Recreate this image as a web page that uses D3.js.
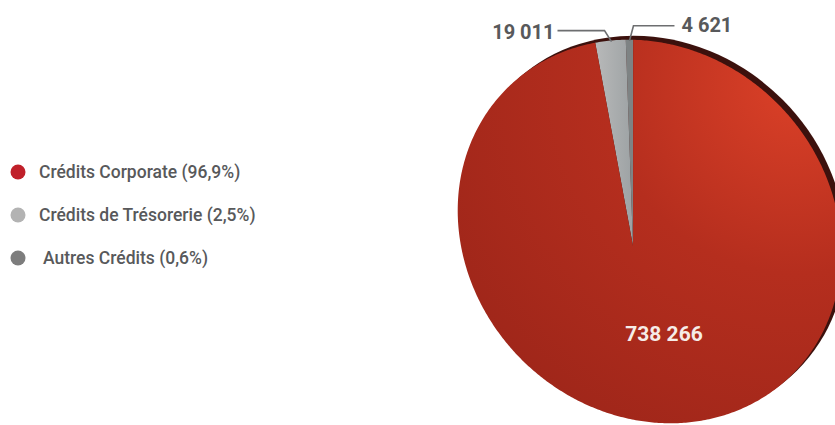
<!DOCTYPE html>
<html><head><meta charset="utf-8">
<script src="https://cdn.jsdelivr.net/npm/d3@7"></script>
<style>body{margin:0;background:#fff}svg{display:block}</style>
</head><body>
<svg id="c" width="835" height="425"></svg>
<script>
const categories = ["Autres Crédits", "Crédits de Trésorerie", "Crédits Corporate"];
const values = [4621, 19011, 738266];
const valueLabels = ["4 621", "19 011", "738 266"];
const legendLabels = ["Crédits Corporate (96,9%)", "Crédits de Trésorerie (2,5%)", "Autres Crédits (0,6%)"];
const legendColors = ["#c0202a", "#b3b3b3", "#7d7d7d"];

const svg = d3.select("#c");
const defs = svg.append("defs");
const rg = defs.append("radialGradient").attr("id","red").attr("gradientUnits","userSpaceOnUse")
  .attr("cx",790).attr("cy",90).attr("r",420).attr("fx",800).attr("fy",80);
rg.append("stop").attr("offset","0").attr("stop-color","#dc4128");
rg.append("stop").attr("offset","0.45").attr("stop-color","#b52e1e");
rg.append("stop").attr("offset","1").attr("stop-color","#9c2519");
const lg = defs.append("linearGradient").attr("id","lgray").attr("x1","0").attr("x2","1").attr("y1","0").attr("y2","0");
lg.append("stop").attr("offset","0").attr("stop-color","#b8b9b9");
lg.append("stop").attr("offset","1").attr("stop-color","#9da2a4");

// tilted (perspective) pie: ellipse outline + apex point
const ecx = 649.5, ecy = 231.5, ea = 202, eb = 181, rot = Math.PI / 4;
const apex = [633, 246];
const e1 = [Math.cos(rot), Math.sin(rot)], e2 = [-Math.sin(rot), Math.cos(rot)];
function E(theta) {
  const d = [Math.sin(theta), -Math.cos(theta)];
  const p = d[0]*e1[0] + d[1]*e1[1], q = d[0]*e2[0] + d[1]*e2[1];
  const r = 1 / Math.sqrt(p*p/(ea*ea) + q*q/(eb*eb));
  return [ecx + r*d[0], ecy + r*d[1]];
}
const start = -0.085;
const pie = d3.pie().sort(null).value(d => d).startAngle(start).endAngle(start - 2*Math.PI);
const arcs = pie(values);
const line = d3.line();
function slicePath(d) {
  const n = Math.max(2, Math.ceil(Math.abs(d.endAngle - d.startAngle) / 0.01));
  const pts = [apex];
  for (let k = 0; k <= n; k++) pts.push(E(d.startAngle + (d.endAngle - d.startAngle) * k / n));
  return line(pts) + "Z";
}
const fills = ["#7e8384", "url(#lgray)", "url(#red)"];

// dark rim (3D edge)
svg.append("ellipse").attr("cx", 0).attr("cy", 0).attr("rx", ea).attr("ry", eb)
  .attr("transform", `translate(${ecx+5},${ecy-4}) rotate(45)`).attr("fill", "#3c110d");

svg.append("g").selectAll("path").data(arcs).enter().append("path")
  .attr("d", slicePath).attr("fill", (d,i) => fills[i]);

// leader lines
const mid = d => (d.startAngle + d.endAngle) / 2;
const p0 = E(mid(arcs[0])), p1 = E(mid(arcs[1]));
svg.append("path").attr("d", line([[p0[0], p0[1]+1], [p0[0]+4, p0[1]-14], [p0[0]+45, p0[1]-14]]))
  .attr("fill","none").attr("stroke","#6d6e70").attr("stroke-width",1.6);
svg.append("path").attr("d", line([[p1[0]+1, p1[1]+1], [p1[0]-6, p1[1]-10], [p1[0]-53, p1[1]-10]]))
  .attr("fill","none").attr("stroke","#6d6e70").attr("stroke-width",1.6);

const fontF = "Roboto, sans-serif";
svg.append("text").attr("x", p0[0]+52).attr("y", p0[1]-8).text(valueLabels[0])
  .attr("font-family",fontF).attr("font-weight","bold").attr("font-size",20).attr("fill","#58595b");
svg.append("text").attr("x", p1[0]-56).attr("y", p1[1]-2).attr("text-anchor","end").text(valueLabels[1])
  .attr("font-family",fontF).attr("font-weight","bold").attr("font-size",20).attr("fill","#58595b");
svg.append("text").attr("x", 664).attr("y", 341).attr("text-anchor","middle").text(valueLabels[2])
  .attr("font-family",fontF).attr("font-weight","bold").attr("font-size",21).attr("fill","#f6ece8");

// legend
const leg = svg.append("g");
const ly = d3.scalePoint().domain(legendLabels).range([172, 258]);
legendLabels.forEach((t, i) => {
  leg.append("circle").attr("cx", 18).attr("cy", ly(t)).attr("r", 7.5).attr("fill", legendColors[i]);
  leg.append("text").attr("x", i === 2 ? 43 : 39).attr("y", ly(t) + 6).text(t)
    .attr("font-family",fontF).attr("font-weight","500").attr("font-size",17.5)
    .attr("fill","#58595b");
});
</script>
</body></html>
